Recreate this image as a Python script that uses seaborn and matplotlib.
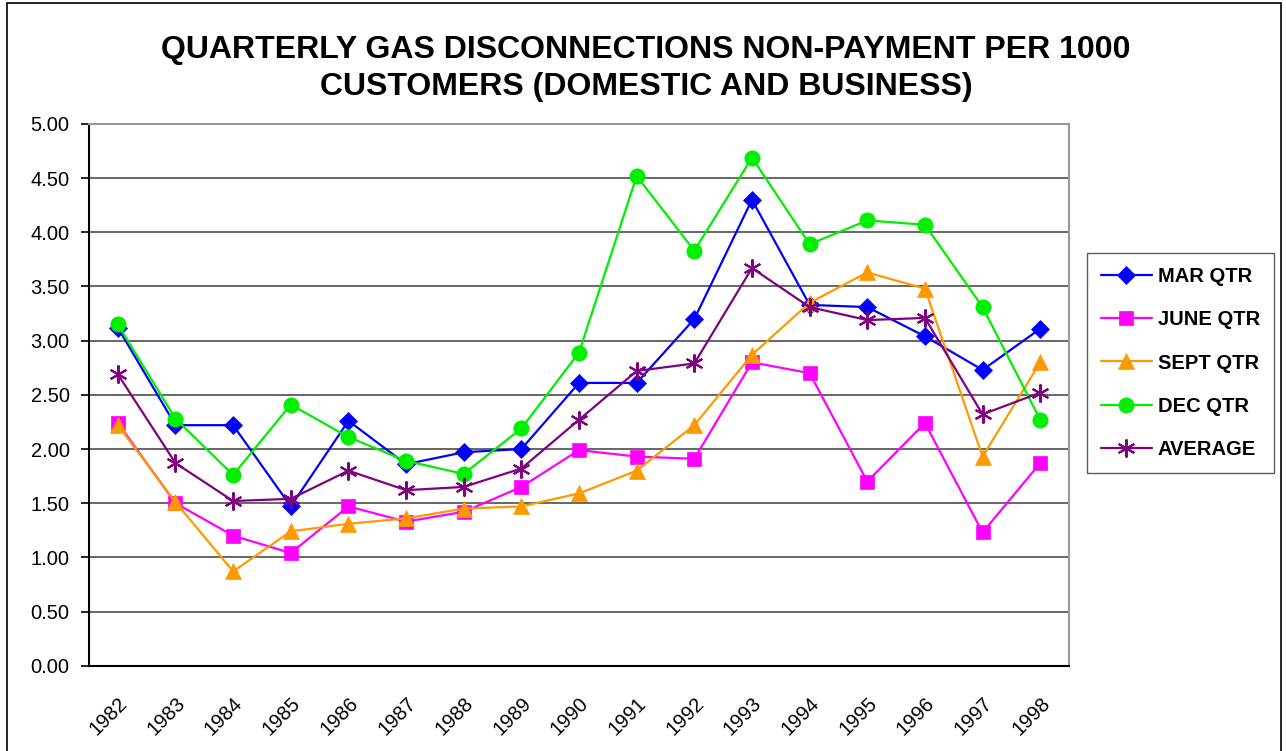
import pandas as pd
import matplotlib.pyplot as plt
import matplotlib.transforms as mtransforms
import seaborn as sns
from matplotlib.lines import Line2D
from matplotlib.patches import Rectangle

years = list(range(1982, 1999))
mar_qtr = [3.12, 2.22, 2.22, 1.47, 2.26, 1.86, 1.97, 2.00, 2.61, 2.61, 3.20, 4.30, 3.33, 3.31, 3.04, 2.73, 3.11]
june_qtr = [2.24, 1.50, 1.20, 1.04, 1.47, 1.33, 1.42, 1.65, 1.99, 1.93, 1.91, 2.80, 2.70, 1.70, 2.24, 1.23, 1.87]
sept_qtr = [2.22, 1.51, 0.87, 1.24, 1.31, 1.36, 1.45, 1.47, 1.59, 1.80, 2.22, 2.87, 3.35, 3.63, 3.48, 1.93, 2.80]
dec_qtr = [3.15, 2.28, 1.76, 2.41, 2.11, 1.89, 1.77, 2.19, 2.89, 4.52, 3.83, 4.69, 3.89, 4.11, 4.07, 3.31, 2.27]
average = [2.69, 1.87, 1.52, 1.54, 1.80, 1.62, 1.65, 1.82, 2.27, 2.72, 2.79, 3.67, 3.31, 3.19, 3.21, 2.32, 2.52]

series_names = ["MAR QTR", "JUNE QTR", "SEPT QTR", "DEC QTR", "AVERAGE"]
colors = ["#0000FF", "#FF00FF", "#FF9900", "#00EE00", "#800080"]
markers = ["D", "s", "^", "o", (6, 2, 0)]
sizes = [9, 10, 11, 11, 13]

df = pd.DataFrame({"Year": years, "MAR QTR": mar_qtr, "JUNE QTR": june_qtr,
                   "SEPT QTR": sept_qtr, "DEC QTR": dec_qtr, "AVERAGE": average})
long_df = df.melt(id_vars="Year", var_name="Series", value_name="Value")

sns.set_theme(style="white", rc={"text.color": "black", "xtick.color": "black",
                                 "ytick.color": "black", "axes.labelcolor": "black"})
plt.rcParams["font.family"] = ["Liberation Sans", "DejaVu Sans"]

fig = plt.figure(figsize=(12.86, 7.51), dpi=100)
ax = fig.add_axes([0.0692, 0.1136, 0.7621, 0.7213])

for name, col, mk, ms in zip(series_names, colors, markers, sizes):
    sub = long_df[long_df["Series"] == name]
    sns.lineplot(data=sub, x="Year", y="Value", color=col, marker=mk, markersize=ms,
                 markeredgecolor=col, markeredgewidth=1.5 if name == "AVERAGE" else 0.5,
                 linewidth=1.6, ax=ax, label=name, legend=False)

ax.set_xlim(1981.5, 1998.5)
ax.set_ylim(0, 5)
ax.set_yticks([i * 0.5 for i in range(11)])
ax.set_yticklabels([f"{i * 0.5:.2f}" for i in range(11)], fontsize=14.5)
ax.set_xticks(years)
ax.set_xticklabels([str(y) for y in years], fontsize=14.5, rotation=45, ha="right",
                   va="top", rotation_mode="anchor")
shift = mtransforms.ScaledTranslation(-11 / 100, 0, fig.dpi_scale_trans)
for lbl in ax.get_xticklabels():
    lbl.set_transform(lbl.get_transform() + shift)
ax.set_xticks([y - 0.5 for y in years] + [1998.5], minor=True)
ax.tick_params(axis="x", which="major", length=0, pad=20)
ax.tick_params(axis="x", which="minor", length=6, width=1.2, color="black", direction="out")
ax.tick_params(axis="y", length=6, width=1.2, color="black", direction="out", pad=8, left=True)
ax.set_xlabel("")
ax.set_ylabel("")

ax.grid(axis="y", color="#4d4d4d", linewidth=1.2)
ax.set_axisbelow(True)
for side in ["left", "bottom"]:
    ax.spines[side].set_color("black")
    ax.spines[side].set_linewidth(1.5)
for side in ["top", "right"]:
    ax.spines[side].set_color("#999999")
    ax.spines[side].set_linewidth(1.5)

handles = [Line2D([], [], color=c, marker=m, markersize=s, markeredgecolor=c,
                  markeredgewidth=1.5 if n == "AVERAGE" else 0.5, linewidth=1.6)
           for n, c, m, s in zip(series_names, colors, markers, sizes)]
leg = ax.legend(handles, series_names, loc="center left", bbox_to_anchor=(0.8453, 0.5166),
                bbox_transform=fig.transFigure, frameon=True, fancybox=False,
                edgecolor="#333333", prop={"weight": "bold", "size": 14.5},
                handlelength=2.5, handletextpad=0.3, labelspacing=1.2,
                borderpad=0.7, borderaxespad=0)
leg.get_frame().set_linewidth(1.0)

fig.text(0.5023, 0.909, "QUARTERLY GAS DISCONNECTIONS NON-PAYMENT PER 1000\nCUSTOMERS (DOMESTIC AND BUSINESS)",
         ha="center", va="center", fontsize=23, fontweight="bold", linespacing=1.3)

fig.patches.append(Rectangle((7 / 1286, -0.01), 1274 / 1286, 1.01 - 3 / 751,
                             transform=fig.transFigure, fill=False,
                             edgecolor="black", linewidth=1.2))

fig.savefig("out.png", dpi=100)
